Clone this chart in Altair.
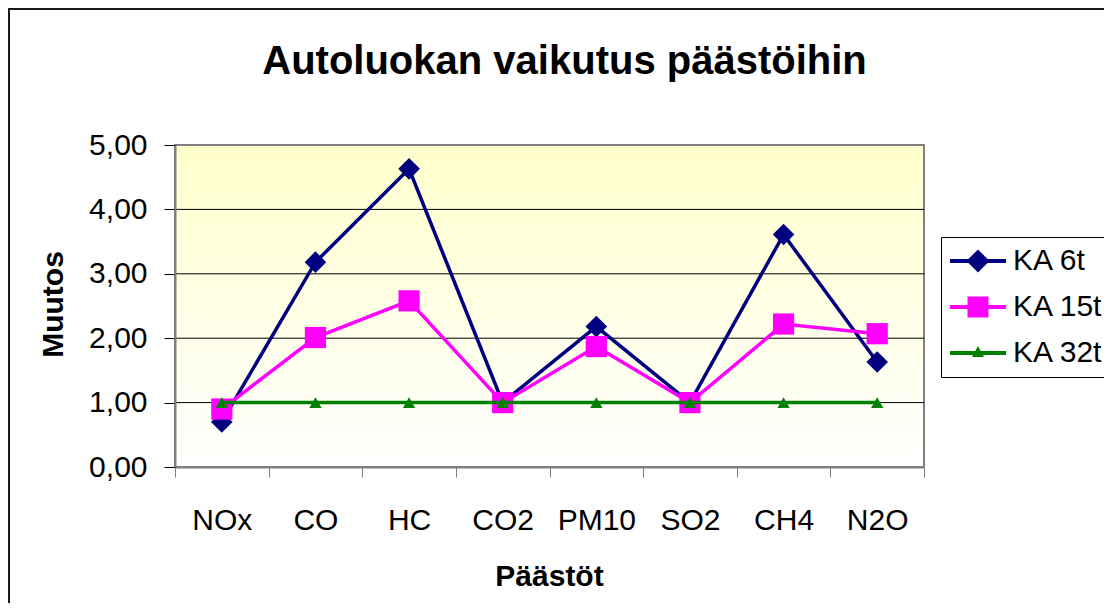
import altair as alt
import pandas as pd

categories = ["NOx", "CO", "HC", "CO2", "PM10", "SO2", "CH4", "N2O"]
series_names = ["KA 6t", "KA 15t", "KA 32t"]
ka_6t = [0.70, 3.18, 4.63, 1.00, 2.18, 1.00, 3.61, 1.63]
ka_15t = [0.90, 2.01, 2.58, 1.00, 1.87, 1.00, 2.22, 2.07]
ka_32t = [1.00, 1.00, 1.00, 1.00, 1.00, 1.00, 1.00, 1.00]
y_ticks = [0, 1, 2, 3, 4, 5]
grid_values = [1, 2, 3, 4]

colors = ["#000080", "#FF00FF", "#008000"]
marker_shapes = ["diamond", "square", "triangle-up"]
marker_sizes = [470, 450, 150]
LINE = "M-1.87,-0.13L1.87,-0.13L1.87,0.13L-1.87,0.13Z"
legend_paths = [
    LINE + "M-0.77,0L0,-0.77L0.77,0L0,0.77Z",
    LINE + "M-0.7,-0.7L0.7,-0.7L0.7,0.7L-0.7,0.7Z",
    LINE + "M-0.4,0.27L0,-0.47L0.4,0.27Z",
]

rows = []
for s, vals in zip(series_names, [ka_6t, ka_15t, ka_32t]):
    for j, (c, v) in enumerate(zip(categories, vals)):
        rows.append({"series": s, "cat": c, "idx": j, "value": v})
df = pd.DataFrame(rows)

W, H = 749, 322
FONT = "Liberation Sans"

x_axis = alt.Axis(
    title="Päästöt", titleFont=FONT, titleFontSize=30, titleFontWeight="bold",
    titleColor="black", titleX=374, titleY=118, titleBaseline="alphabetic",
    titleAlign="center", titleAnchor="middle",
    labelFont=FONT, labelFontSize=30, labelColor="black", labelAngle=0,
    labelBaseline="alphabetic", labelPadding=52,
    tickBand="extent", tickSize=10, tickColor="#808080", tickWidth=1,
    domainColor="#808080", domainWidth=2, grid=False, zindex=1,
)
y_axis = alt.Axis(
    title="Muutos", titleFont=FONT, titleFontSize=30, titleFontWeight="bold",
    titleColor="black", titleX=-113, titleY=159, titleAngle=-90,
    titleBaseline="alphabetic", titleAlign="center",
    values=y_ticks, labelExpr="replace(format(datum.value, '.2f'), '.', ',')",
    labelFont=FONT, labelFontSize=30, labelColor="black", labelPadding=17,
    labelBaseline="middle",
    tickSize=11, tickColor="black", tickWidth=1,
    domainColor="#808080", domainWidth=2, grid=False, zindex=1,
)

x_enc = alt.X("cat:N", sort=categories,
              scale=alt.Scale(type="band", domain=categories, paddingInner=0, paddingOuter=0),
              axis=x_axis)
y_enc = alt.Y("value:Q", scale=alt.Scale(domain=[0, 5], nice=False, zero=True), axis=y_axis)

one = pd.DataFrame({"value": [0]})

gradient = alt.LinearGradient(
    gradient="linear",
    stops=[alt.GradientStop(color="#FFFFCC", offset=0),
           alt.GradientStop(color="#FFFFFF", offset=1)],
    x1=0, x2=0, y1=0, y2=1,
)
background = alt.Chart(one).mark_rect(fill=gradient, stroke="#808080", strokeWidth=2).encode(
    x=alt.value(0), x2=alt.value(W), y=alt.value(0), y2=alt.value(H)
)
frame = alt.Chart(one).mark_rect(fillOpacity=0, stroke="#1a1a1a", strokeWidth=2).encode(
    x=alt.value(-166), x2=alt.value(1000), y=alt.value(-136), y2=alt.value(600)
)
grid = alt.Chart(pd.DataFrame({"value": grid_values})).mark_rule(color="black", strokeWidth=1).encode(
    y=y_enc
)

layers = [background, frame, grid]
for s, col, shp, sz in zip(series_names, colors, marker_shapes, marker_sizes):
    base = alt.Chart(df).transform_filter(alt.datum.series == s)
    layers.append(base.mark_line(color=col, strokeWidth=3.5).encode(
        x=x_enc, y=y_enc, order=alt.Order("idx:Q")))
    layers.append(base.mark_point(filled=True, shape=shp, size=sz, color=col, opacity=1).encode(
        x=x_enc, y=y_enc))

leg = alt.Legend(
    title=None, orient="none", legendX=766, legendY=92,
    labelFont=FONT, labelFontSize=30, labelColor="black", labelLimit=0,
    symbolSize=900, symbolStrokeWidth=0, symbolOpacity=1,
    labelOffset=20, symbolOffset=13, padding=9, rowPadding=16,
    strokeColor="black", fillColor="white",
)
legend_layer = alt.Chart(df).transform_filter("datum.value < -100").mark_point(
    filled=True, size=900, opacity=1
).encode(
    x=x_enc, y=y_enc,
    color=alt.Color("series:N", scale=alt.Scale(domain=series_names, range=colors), legend=leg),
    shape=alt.Shape("series:N", scale=alt.Scale(domain=series_names, range=legend_paths), legend=leg),
)
layers.append(legend_layer)

chart = alt.layer(*layers).properties(
    width=W, height=H,
    title=alt.Title("Autoluokan vaikutus päästöihin", font=FONT, fontSize=40, fontWeight="bold",
                    color="black", anchor="middle", dx=15, offset=0, dy=106, baseline="alphabetic"),
    autosize=alt.AutoSizeParams(type="none"),
    padding={"left": 167, "top": 137, "right": 180, "bottom": 136},
).configure_view(stroke="transparent").configure(font=FONT, background="white")

chart.save("out.html", embed_options={"renderer": "svg", "actions": False})
